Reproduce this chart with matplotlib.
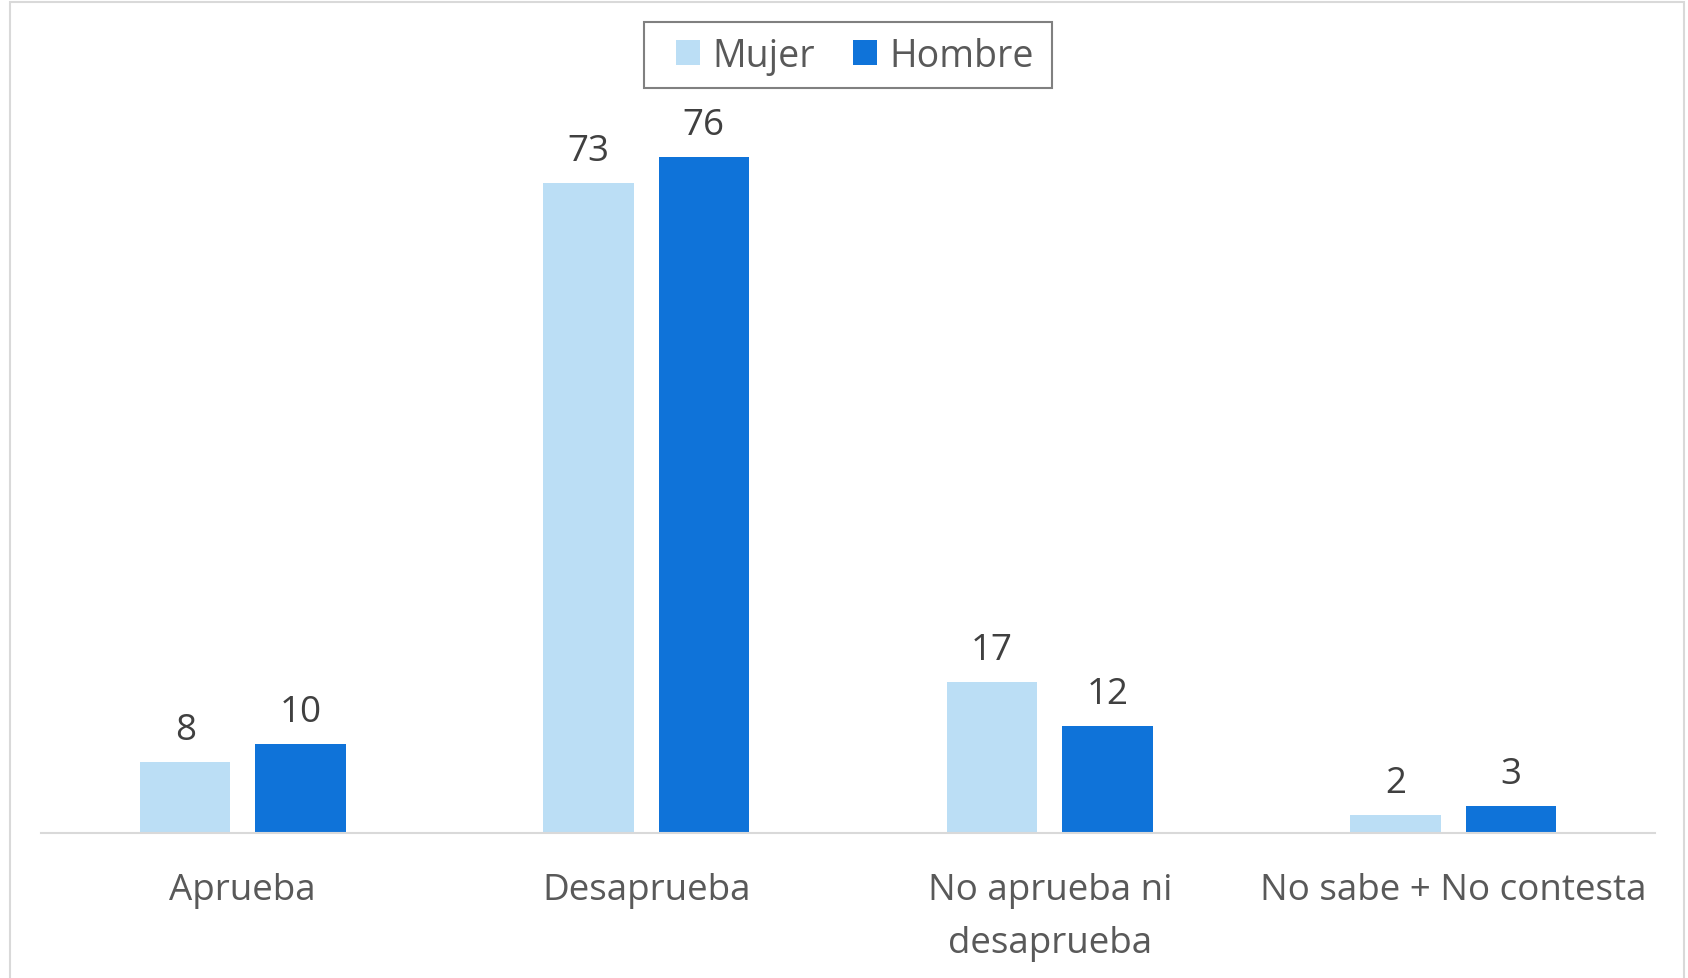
import matplotlib
matplotlib.use("Agg")
import matplotlib.pyplot as plt
from matplotlib.patches import Rectangle
import numpy as np

categories = ["Aprueba", "Desaprueba", "No aprueba ni\ndesaprueba", "No sabe + No contesta"]
mujer = [8, 73, 17, 2]
hombre = [10, 76, 12, 3]
series_names = ["Mujer", "Hombre"]

W, H = 1688, 979
fig = plt.figure(figsize=(W / 100, H / 100), dpi=100)
plt.rcParams['font.family'] = ['Open Sans', 'DejaVu Sans']
FS = 26.5
FS_LEG = 27

# outer chart border
fig.patches.append(Rectangle((10 / W, -0.01), (1684 - 10) / W, 1 - 3 / H + 0.01,
                             transform=fig.transFigure, fill=False,
                             edgecolor='#D9D9D9', linewidth=1.5))

base_px = 834
ax_left, ax_right = 41 / W, 1655 / W
ax_bottom = (H - base_px) / H
ymax = 90
ax_top_px = base_px - ymax * 8.9
ax = fig.add_axes([ax_left, ax_bottom, ax_right - ax_left, (base_px - ax_top_px) / H])
ax.set_xlim(-0.5, 3.5)
ax.set_ylim(0, ymax)

c_m = '#BBDEF5'
c_h = '#0F73D9'
x = np.arange(len(categories))
bw = 0.224
off = 0.1427
b1 = ax.bar(x - off, mujer, bw, color=c_m, label=series_names[0])
b2 = ax.bar(x + off, hombre, bw, color=c_h, label=series_names[1])

for bars, vals in ((b1, mujer), (b2, hombre)):
    for r, v in zip(bars, vals):
        ax.annotate(str(v), (r.get_x() + r.get_width() / 2, v),
                    xytext=(0, 16.5), textcoords='offset points',
                    ha='center', va='baseline', fontsize=FS, color='#404040')

for s in ['top', 'left', 'right']:
    ax.spines[s].set_visible(False)
ax.spines['bottom'].set_color('#D9D9D9')
ax.spines['bottom'].set_linewidth(1.5)
ax.set_yticks([])
ax.set_xticks(x)
ax.set_xticklabels(categories, fontsize=FS, color='#595959', linespacing=1.62)
ax.tick_params(axis='x', length=0, pad=28)

# legend frame
fig.patches.append(Rectangle((644 / W, 1 - 89 / H), (1052 - 644) / W, (89 - 23) / H,
                             transform=fig.transFigure, fill=True, facecolor='white',
                             edgecolor='#808080', linewidth=1.5, zorder=5))
leg = fig.legend(handles=[b1, b2], labels=series_names, loc='center',
                 bbox_to_anchor=(855 / W, 1 - 57 / H), ncol=2, fontsize=FS_LEG,
                 frameon=False,
                 handlelength=0.65, handleheight=0.65, handletextpad=0.33,
                 columnspacing=1.0, borderpad=0.3, borderaxespad=0,
                 labelcolor='#595959')
leg.set_zorder(6)

fig.savefig("out.png", dpi=100, facecolor='white')
